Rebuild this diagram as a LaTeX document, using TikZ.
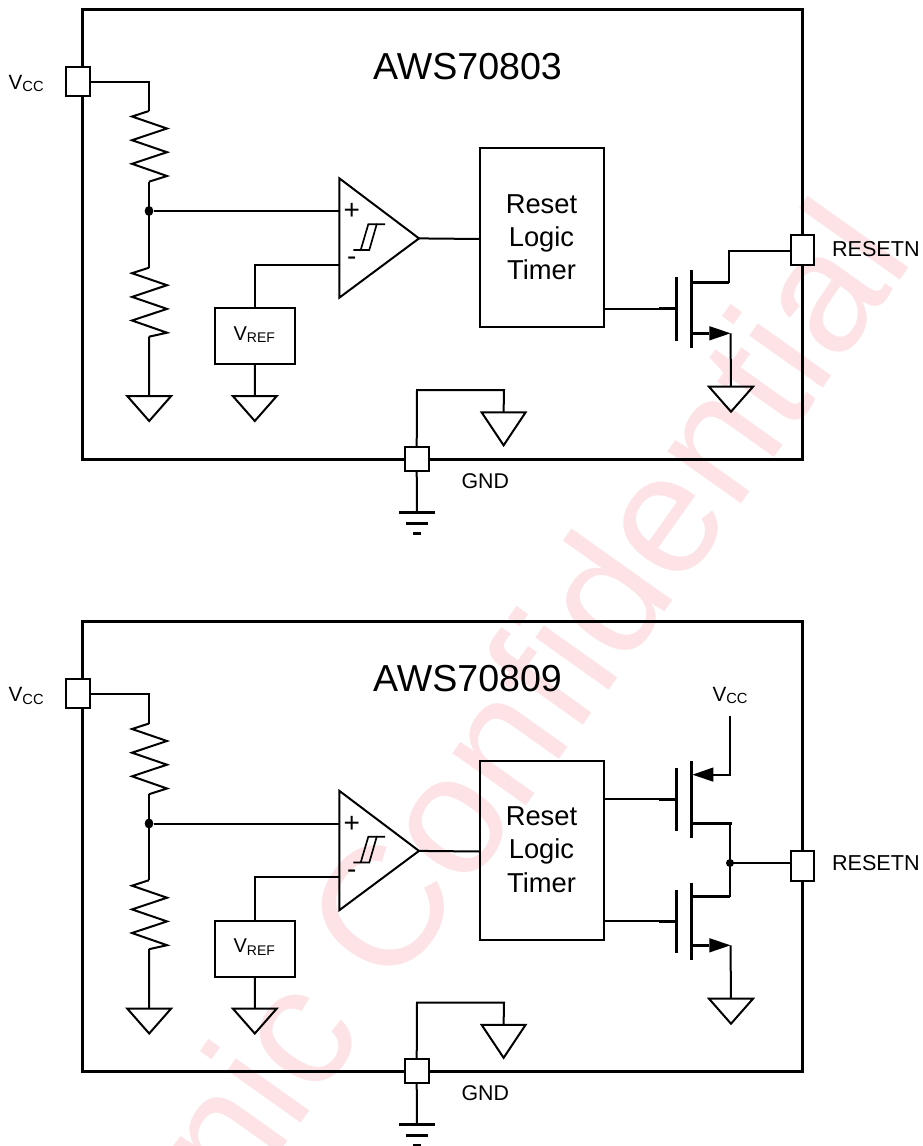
\documentclass[tikz,border=0pt]{standalone}
\usepackage{fontspec}
\usetikzlibrary{shapes.geometric}
\setmainfont{Liberation Sans}
\definecolor{wmark}{HTML}{FDE3E6}
\newcommand{\fpt}[1]{\fontsize{#1}{#1}\selectfont}
\newcommand{\subbed}[2]{V\lower2.1pt\hbox{\fpt{#2}#1}}
\tikzset{
  x=.75pt,y=-.75pt,
  outline/.style={draw=black,line width=2.25pt,line join=miter},
  wire/.style={draw=black,line width=1.5pt,line join=miter},
  thinw/.style={draw=black,line width=1.25pt,line join=miter},
  heavy/.style={draw=black,line width=2.25pt},
  pad/.style={draw=black,line width=1.5pt,fill=white,inner sep=0pt,outer sep=0pt,minimum width=18pt,minimum height=22pt},
  gpad/.style={pad,minimum height=18pt},
  blockbox/.style={draw=black,line width=1.5pt,inner sep=0pt,outer sep=0pt,align=center},
  lbl/.style={inner sep=0pt,outer sep=0pt,anchor=base west,text=black},
  junction/.style={fill=black,ellipse,inner sep=0pt},
}
\newcommand{\resistor}[2]{%
  \draw[wire] (#1) -- ++(-17,5.5) -- ++(35,12) -- ++(-35,11.7) -- ++(35,12) -- ++(-35,11.6) -- ++(35,12.2) -- (#2);}
\newcommand{\groundtri}[2][25]{%
  \draw[wire] (#2) ++(-22,0) -- ++(44,0) -- ++(-22,#1) -- cycle;}
\newcommand{\mosgate}[3]{% name prefix, y of gate, driven box
  \coordinate (#1gs) at (659,#2);
  \coordinate (#1gb) at (676.7,#2);
  \draw[wire] (#3.east |- #1gs) -- (#1gs);
  \draw[heavy] (#1gs) -- (#1gb);
  \draw[heavy] (676.7,#2-31.7) coordinate (#1gt) -- (676.7,#2+31.7) coordinate (#1gd);
  \draw[heavy] (691,#2-38.7) coordinate (#1ct) -- (691,#2+38.7) coordinate (#1cb);}
\newcommand{\nsource}[2]{% prefix, y
  \coordinate (#1sl) at (691,#2);
  \coordinate (#1sb) at (709.3,#2);
  \coordinate (#1st) at (730.5,#2);
  \draw[heavy] (#1sl) -- (#1sb);
  \fill[black] (#1st) -- (709.3,#2-7.2) -- (709.3,#2+7.2) -- cycle;
  \coordinate (#1g) at (731,#2+53.4);
  \draw[wire] (#1st) -- (#1g);
  \groundtri{#1g}}
\newcommand{\commonblock}[2]{%
  \coordinate (tl) at (82.5,9);
  \coordinate (br) at (802,459);
  \draw[outline] (tl) rectangle (br);
  \node[pad] (vcc) at (78,81.2) {};
  \node[gpad] (gndp) at (416.7,458.7) {};
  \node[pad,minimum width=17.5pt] (rstp) at (802.3,#1) {};
  \node[font=\fpt{28.2},inner sep=0pt,anchor=base,text=black] (title) at (467.5,79.2) {#2};
  \node[lbl,font=\fpt{15.5}] (vcclab) at (8.7,89) {\subbed{CC}{11}};
  \node[lbl,font=\fpt{16}] (gndlab) at (461.5,488.3) {GND};
  % divider
  \coordinate (r1a) at (149,111);
  \coordinate (r1b) at (149,181.7);
  \coordinate (jn) at (149,211);
  \coordinate (r2a) at (149,267.7);
  \coordinate (r2b) at (149,336.7);
  \coordinate (g1) at (149.2,396);
  \draw[wire] (vcc.east |- 0,81.8) -| (r1a);
  \resistor{r1a}{r1b}
  \draw[wire] (r1b) -- (r2a);
  \resistor{r2a}{r2b}
  \draw[wire] (r2b) -- (g1);
  \groundtri{g1}
  \node[junction,minimum width=6.5pt,minimum height=7.5pt] (dot) at (jn) {};
  % comparator
  \coordinate (cpt) at (339.3,178.3);
  \coordinate (cpb) at (339.3,297.7);
  \coordinate (cpo) at (419,238.4);
  \coordinate (cpp) at (339.3,211);
  \coordinate (cpm) at (339.3,264.7);
  \draw[wire] (cpt) -- (cpo) -- (cpb) -- cycle;
  \draw[wire] (dot) -- (cpp);
  \node[inner sep=0pt,font=\fpt{21}] (plus) at (351.7,211.5) {+};
  \node[inner sep=0pt,font=\fpt{21}] (minus) at (351.7,261.3) {-};
  \draw[thinw] (353.3,250) -- (369.3,250) -- (376.7,224.3) -- (385,224.3);
  \draw[thinw] (360.7,250) -- (368.3,224.3) -- (376.7,224.3);
  % vref
  \node[blockbox,minimum width=60pt,minimum height=41.8pt] (vref) at (255,336.2) {};
  \node[lbl,font=\fpt{15}] (vreflab) at (233.6,340) {\subbed{REF}{10.5}};
  \coordinate (g2) at (254.8,396);
  \draw[wire] (vref.north) |- (cpm);
  \draw[wire] (vref.south) -- (g2);
  \groundtri{g2}
  % logic box
  \node[blockbox,minimum width=93pt,minimum height=134.4pt] (logic) at (541.8,237.8) {};
  \node[inner sep=0pt,font=\fpt{20.5},anchor=base,text=black] (t1) at (541.5,213) {Reset};
  \node[inner sep=0pt,font=\fpt{20.5},anchor=base,text=black] (t2) at (541.5,246.3) {Logic};
  \node[inner sep=0pt,font=\fpt{20.5},anchor=base,text=black] (t3) at (541.5,279.6) {Timer};
  \draw[wire] (cpo) -- (logic.west |- 0,239);
  % gnd pad
  \coordinate (gb) at (417,390);
  \coordinate (gc) at (504,390);
  \coordinate (g3) at (503.6,412.3);
  \coordinate (gnde) at (417,512.3);
  \draw[wire] (gndp.north) -- (gb) -- (gc) -- (g3);
  \groundtri[33]{g3}
  \draw[wire] (gndp.south) -- (gnde);
  \draw[heavy] (399,512.3) -- (435,512.3);
  \draw[heavy] (406,523.3) -- (427.7,523.3);
  \draw[heavy] (413.3,533.3) -- (421,533.3);
}
\begin{document}
\begin{tikzpicture}
\useasboundingbox (0,0) rectangle (922,1146);
\clip (0,0) rectangle (922,1146);
\node[rotate=54.6,anchor=base east,inner sep=0pt,font=\fpt{128},text=wmark] (wm) at (916,258) {nic Confidential};
% top block
\begin{scope}[name prefix=a-]
  \commonblock{250}{AWS70803}
  \node[lbl,font=\fpt{16.2}] (rstlab) at (832,256.5) {RESETN};
  \mosgate{m}{308.9}{logic}
  \coordinate (md1) at (729.3,282.7);
  \coordinate (md2) at (729.3,250.7);
  \draw[heavy] (691,282.7) -- (md1);
  \draw[wire] (md1) -- (md2) -- (rstp.west |- md2);
  \nsource{m}{333.3}
\end{scope}
% bottom block
\begin{scope}[shift={(0,612.5)},name prefix=b-]
  \commonblock{253.5}{AWS70809}
  \node[lbl,font=\fpt{16.2}] (rstlab) at (832,258) {RESETN};
  % p-mos
  \mosgate{p}{186.8}{logic}
  \coordinate (pst) at (730,162.2);
  \coordinate (ptop) at (730,103.2);
  \coordinate (pdr) at (731,210.8);
  \draw[wire] (ptop) -- (pst) -- (713,162.2);
  \fill[black] (692.5,162.2) -- (713.3,154.9) -- (713.3,169.2) -- cycle;
  \draw[heavy] (691,210.8) -- (732,210.8);
  \node[lbl,font=\fpt{15.5}] (vcc2) at (712.5,88.5) {\subbed{CC}{11}};
  % n-mos
  \mosgate{n}{308.8}{logic}
  \coordinate (ndr) at (730,284.2);
  \coordinate (jr) at (730,250.5);
  \draw[heavy] (691,284.2) -- (ndr);
  \draw[wire] (pdr -| ndr) -- (ndr);
  \draw[wire] (jr) -- (rstp.west |- jr);
  \fill[black] (jr) circle (4);
  \nsource{n}{332.8}
\end{scope}
\end{tikzpicture}
\end{document}
